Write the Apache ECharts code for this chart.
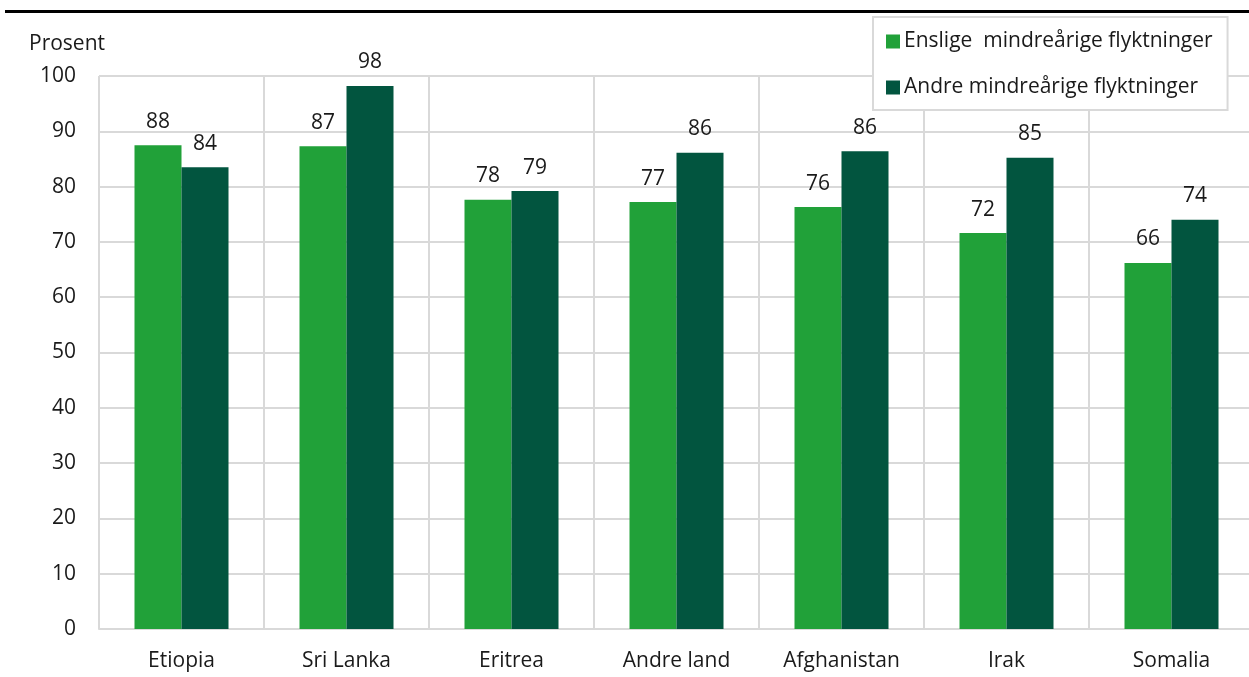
<!DOCTYPE html>
<html>
<head>
<meta charset="utf-8">
<script src="https://cdn.jsdelivr.net/npm/echarts@6/dist/echarts.min.js"></script>
<style>
  html, body { margin: 0; padding: 0; background: #fff; }
  #chart { width: 1249px; height: 677px; }
</style>
</head>
<body>
<div id="chart"></div>
<script>
  // data
  const categories = ['Etiopia', 'Sri Lanka', 'Eritrea', 'Andre land', 'Afghanistan', 'Irak', 'Somalia']
  const enslige = [87.5, 87.3, 77.6, 77.2, 76.3, 71.6, 66.2]
  const andre = [83.5, 98.2, 79.2, 86.1, 86.4, 85.2, 74.0]
  const seriesNames = ['Enslige  mindreårige flyktninger', 'Andre mindreårige flyktninger']
  const yTicks = { min: 0, max: 100, interval: 10 }

  const font = '"Open Sans", "Noto Sans", sans-serif'
  const textColor = '#1a1a1a'
  const gridColor = '#d9d9d9'
  const fs = 21

  const chart = echarts.init(document.getElementById('chart'))

  const labelOpt = {
    show: true,
    position: 'top',
    distance: 13,
    color: textColor,
    fontSize: fs,
    fontFamily: font,
    formatter: p => Math.round(p.value)
  }

  chart.setOption({
    animation: false,
    textStyle: { fontFamily: font },
    grid: { left: 99, top: 76, width: 1155, height: 553, outerBoundsMode: 'none' },
    graphic: [
      // thick rule at the top (title above is cut off)
      { type: 'rect', left: 5, top: 10, shape: { width: 1250, height: 3 }, style: { fill: '#000' }, z: 10 },
      { type: 'text', left: 29, top: 34, style: { text: 'Prosent', fontSize: fs, fontFamily: font, fill: textColor } }
    ],
    legend: {
      orient: 'vertical',
      left: 873,
      top: 17,
      padding: [14, 15, 12, 13],
      itemGap: 25,
      itemWidth: 14,
      itemHeight: 14,
      icon: 'rect',
      backgroundColor: '#fff',
      borderColor: gridColor,
      borderWidth: 2,
      textStyle: { fontSize: fs, color: textColor, fontFamily: font, padding: [0, 0, 0, -1] },
      data: seriesNames
    },
    xAxis: {
      type: 'category',
      data: categories,
      axisLine: { lineStyle: { color: gridColor, width: 2 } },
      axisTick: { show: false },
      splitLine: { show: true, interval: 0, lineStyle: { color: gridColor, width: 2 } },
      axisLabel: { color: textColor, fontSize: fs, margin: 22, fontFamily: font }
    },
    yAxis: {
      type: 'value',
      min: yTicks.min,
      max: yTicks.max,
      interval: yTicks.interval,
      axisLine: { show: false },
      axisTick: { show: false },
      splitLine: { lineStyle: { color: gridColor, width: 2 } },
      axisLabel: { color: textColor, fontSize: fs, margin: 23, fontFamily: font }
    },
    series: [
      {
        name: seriesNames[0],
        type: 'bar',
        data: enslige,
        barWidth: 47,
        barGap: '0%',
        itemStyle: { color: '#21a139' },
        label: labelOpt
      },
      {
        name: seriesNames[1],
        type: 'bar',
        data: andre,
        barWidth: 47,
        barGap: '0%',
        itemStyle: { color: '#02553f' },
        label: labelOpt
      }
    ]
  })
</script>
</body>
</html>
